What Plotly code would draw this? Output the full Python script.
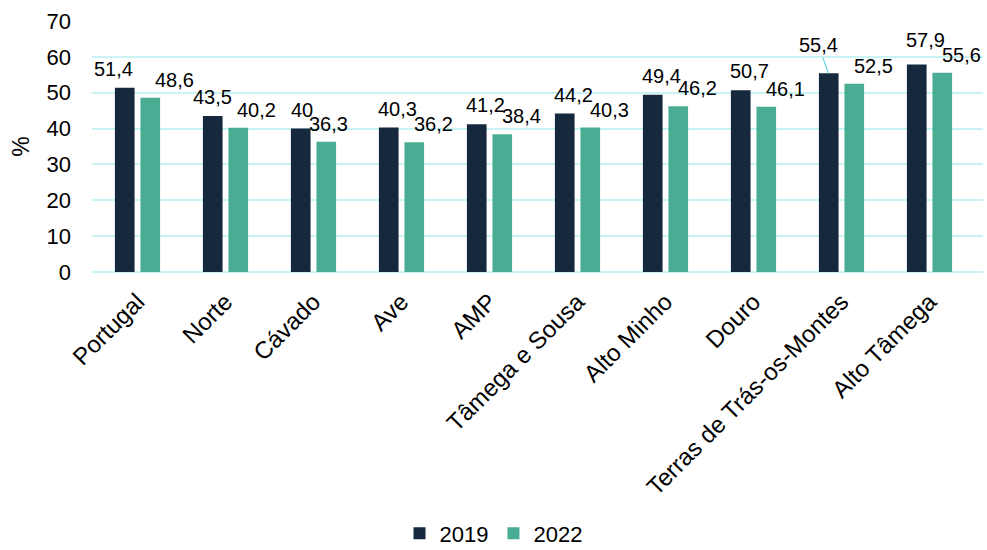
import plotly.graph_objects as go

categories = ["Portugal", "Norte", "Cávado", "Ave", "AMP", "Tâmega e Sousa",
              "Alto Minho", "Douro", "Terras de Trás-os-Montes", "Alto Tâmega"]
series_names = ["2019", "2022"]
values_2019 = [51.4, 43.5, 40.0, 40.3, 41.2, 44.2, 49.4, 50.7, 55.4, 57.9]
values_2022 = [48.6, 40.2, 36.3, 36.2, 38.4, 40.3, 46.2, 46.1, 52.5, 55.6]
y_ticks = [0, 10, 20, 30, 40, 50, 60, 70]

DARK = "#15283d"
GREEN = "#4aad93"
GRID = "#c8f2f4"
FONT = "Liberation Sans, Arial, sans-serif"
LBL = 20

def fmt(v):
    s = ("%.1f" % v).rstrip("0").rstrip(".")
    return s.replace(".", ",")

fig = go.Figure()
fig.add_trace(go.Bar(x=categories, y=values_2019, name=series_names[0],
                     marker=dict(color=DARK, line=dict(width=0))))
fig.add_trace(go.Bar(x=categories, y=values_2022, name=series_names[1],
                     marker=dict(color=GREEN, line=dict(width=0))))

# label nudges (pixels) -- style only
dark_bar_off = -13
green_bar_off = 13
dark_nudge = {0: -11, 1: 0, 2: 1}
green_nudge = {0: 24, 1: 18, 2: 2}
dark_lift = {9: 11}

annotations = []
for i, c in enumerate(categories):
    v = values_2019[i]
    if c == "Terras de Trás-os-Montes":
        annotations.append(dict(x=c, y=v, xref="x", yref="y", text=fmt(v),
                                showarrow=True, arrowhead=0, arrowwidth=1.2,
                                arrowcolor="#5fd3da", xshift=dark_bar_off,
                                ax=-10, ay=-28,
                                font=dict(family=FONT, size=LBL, color="#000")))
    else:
        annotations.append(dict(x=c, y=v, xref="x", yref="y", text=fmt(v),
                                showarrow=False, yanchor="bottom",
                                xshift=dark_bar_off + dark_nudge.get(i, 9),
                                yshift=dark_lift.get(i, 6),
                                font=dict(family=FONT, size=LBL, color="#000")))
    v2 = values_2022[i]
    annotations.append(dict(x=c, y=v2, xref="x", yref="y", text=fmt(v2),
                            showarrow=False, yanchor="bottom",
                            xshift=green_bar_off + green_nudge.get(i, 19), yshift=5,
                            font=dict(family=FONT, size=LBL, color="#000")))

fig.update_layout(
    width=987, height=550,
    margin=dict(l=92, r=4, t=21, b=278),
    paper_bgcolor="white", plot_bgcolor="white",
    barmode="group", bargap=0.42, bargroupgap=0.23,
    font=dict(family=FONT, size=21, color="#000"),
    showlegend=True,
    legend=dict(orientation="h", xref="container", yref="container",
                x=0.5, xanchor="center", y=0.03, yanchor="middle",
                font=dict(family=FONT, size=22), itemwidth=30,
                traceorder="normal"),
    annotations=annotations,
)
fig.update_yaxes(range=[0, 70], tickvals=y_ticks, showgrid=True, gridcolor=GRID,
                 gridwidth=1.5, zeroline=True, zerolinecolor=GRID, zerolinewidth=1.5,
                 showline=False, ticks="", ticklabelstandoff=20,
                 tickfont=dict(family=FONT, size=22),
                 title=dict(text="%", font=dict(family=FONT, size=23), standoff=10))
fig.update_xaxes(tickangle=-45, showgrid=False, showline=False, ticks="",
                 ticklabelstandoff=10,
                 tickfont=dict(family=FONT, size=24))

fig.write_html("out.html", post_script="document.body.style.margin='0';",
               config={"displayModeBar": False})
